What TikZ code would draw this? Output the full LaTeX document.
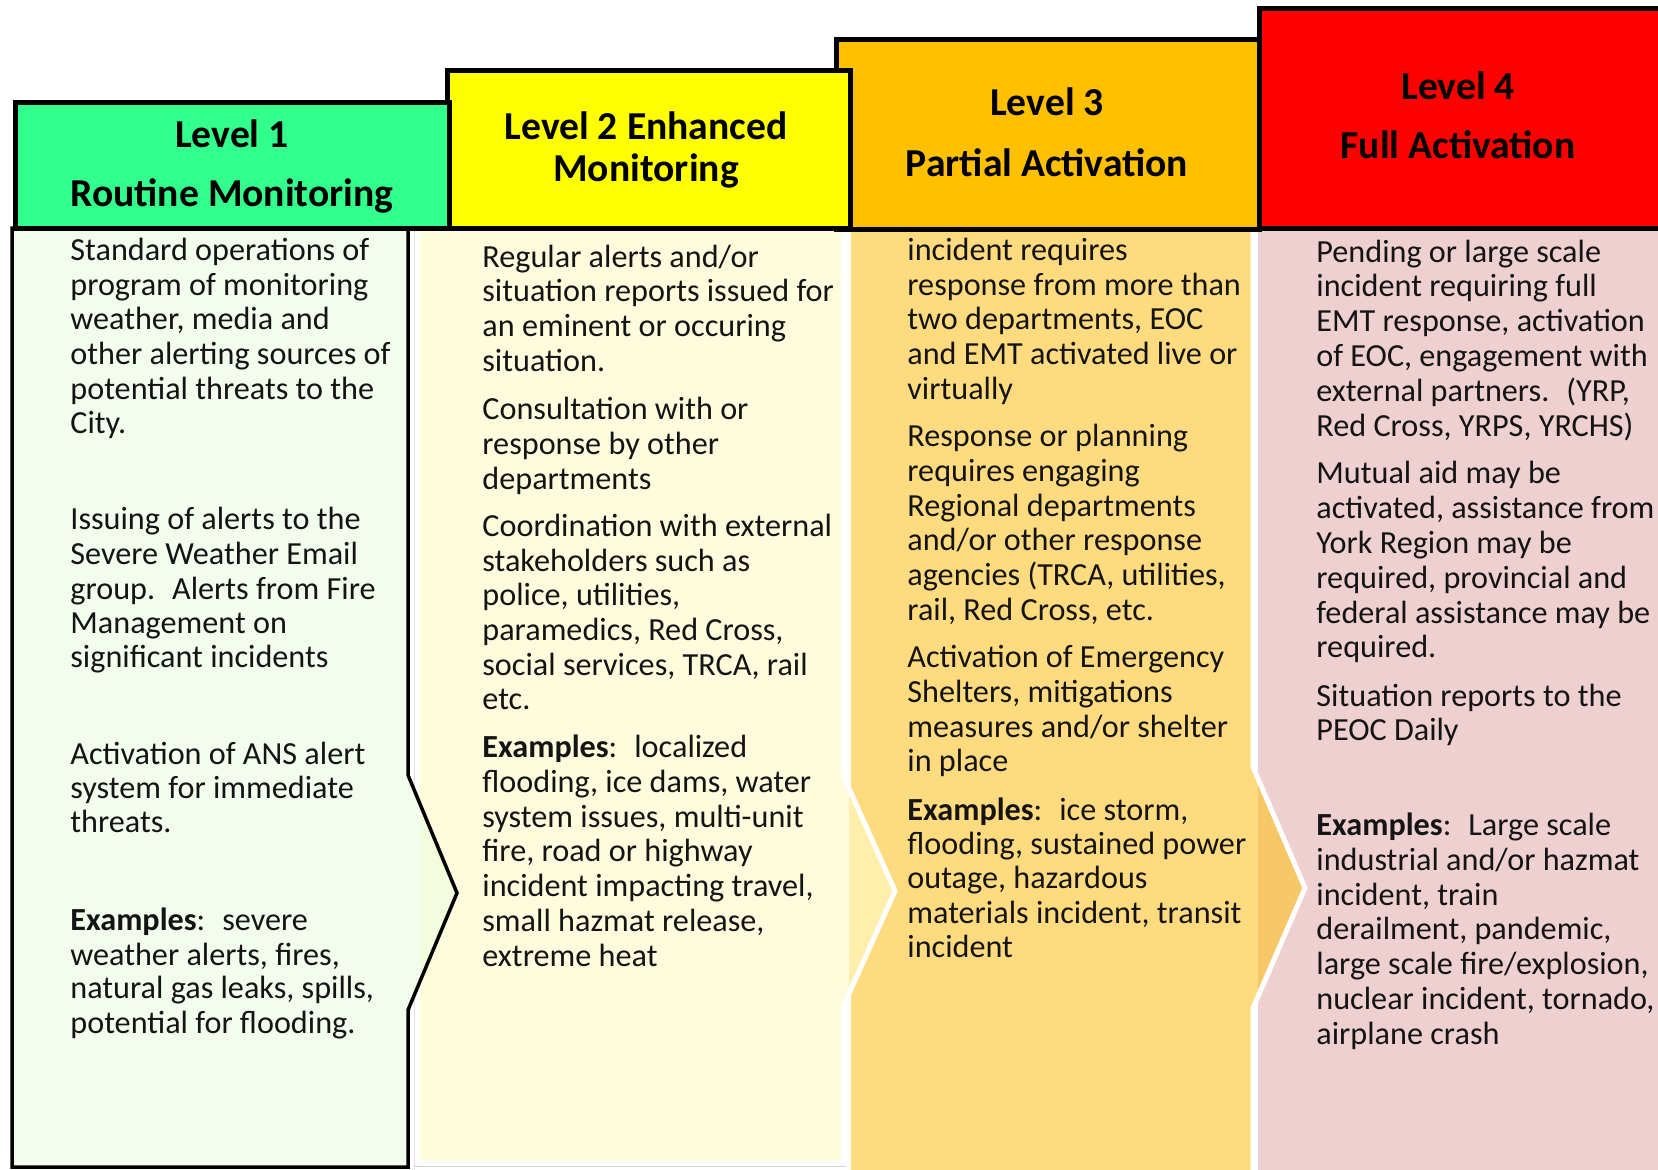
\documentclass[tikz,border=0pt]{standalone}
\usepackage{fontspec}
\setmainfont{Carlito}
\definecolor{hdone}{RGB}{51,255,140}
\definecolor{hdtwo}{RGB}{255,255,0}
\definecolor{hdthree}{RGB}{255,192,0}
\definecolor{hdfour}{RGB}{255,0,0}
\definecolor{bdone}{RGB}{243,253,238}
\definecolor{tipone}{RGB}{244,252,222}
\definecolor{bdtwo}{RGB}{255,252,222}
\definecolor{tiptwo}{RGB}{255,239,170}
\definecolor{bdthree}{RGB}{255,219,128}
\definecolor{tipthree}{RGB}{245,199,102}
\definecolor{bdfour}{RGB}{238,208,209}
\definecolor{txtcol}{RGB}{20,20,20}
\tikzset{
  hdrbox/.style={draw=black, line width=2.5pt},
  htxt/.style={font=\fontsize{19.8}{23}\selectfont\bfseries, anchor=base, inner sep=0pt},
  btxt/.style={font=\fontsize{16.1}{19}\selectfont, anchor=base west, inner sep=0pt, text=txtcol},
  wline/.style={draw=white, line width=2.5pt},
}
\begin{document}
\begin{tikzpicture}[x=0.5pt,y=-0.5pt]
\useasboundingbox (0,0) rectangle (1658,1169);
\clip (0,0) rectangle (1658,1169);
\fill[white] (0,0) rectangle (1658,1169);

% ---- Level 4 body
\fill[bdfour] (1258,229) rectangle (1720,1220);

% ---- Level 3 body
\fill[bdthree] (848,229) -- (1253,229) -- (1253,767) -- (1305,888) -- (1253,1008) -- (1253,1220) -- (848,1220) -- cycle;
\begin{scope}
  \clip (1258,0) rectangle (1720,1220);
  \fill[tipthree] (1253,767) -- (1305,888) -- (1253,1008) -- cycle;
\end{scope}
\draw[wline] (848,229) -- (848,1220);
\draw[wline] (1253,229) -- (1253,767) -- (1305,888) -- (1253,1008) -- (1253,1220);

% ---- Level 2 body
\draw[gray!35, line width=0.4pt] (414,229) -- (414,1166.5) -- (846,1166.5);
\fill[bdtwo] (417,229) -- (843,229) -- (843,775) -- (895,891) -- (843,1007) -- (843,1163) -- (417,1163) -- cycle;
\begin{scope}
  \clip (849,0) rectangle (1000,1220);
  \fill[tiptwo] (843,775) -- (895,891) -- (843,1007) -- cycle;
\end{scope}
\draw[wline] (417,229) -- (843,229) -- (843,775) -- (895,891) -- (843,1007) -- (843,1163) -- (417,1163) -- cycle;

% ---- Level 1 body
\fill[bdone] (12,228) -- (408,228) -- (408,775) -- (457,893) -- (408,1010) -- (408,1167) -- (12,1167) -- cycle;
\begin{scope}
  \clip (421,0) rectangle (470,1220);
  \fill[tipone] (408,775) -- (457,893) -- (408,1010) -- cycle;
\end{scope}
\draw[black, line width=1.75pt] (12,228) -- (408,228) -- (408,775) -- (457,893) -- (408,1010) -- (408,1167) -- (12,1167) -- cycle;

% ---- Headers
\draw[hdrbox, fill=hdfour] (1259,8) rectangle (1720,228);
\draw[hdrbox, fill=hdthree] (836,39) rectangle (1259,229);
\draw[hdrbox, fill=hdtwo] (447,70) rectangle (850,228);
\draw[hdrbox, fill=hdone] (15,102) rectangle (449,228);

\node[htxt] (h1a) at (232,147) {Level 1};
\node[htxt] (h1b) at (232,206) {Routine Monitoring};
\node[htxt] (h2a) at (646,139) {Level 2 Enhanced};
\node[htxt] (h2b) at (646,181) {Monitoring};
\node[htxt] (h3a) at (1047,115) {Level 3};
\node[htxt] (h3b) at (1047,176) {Partial Activation};
\node[htxt] (h4a) at (1458,99) {Level 4};
\node[htxt] (h4b) at (1458,158) {Full Activation};

% ---- Column 1 text
\foreach \y/\t [count=\i] in {
  260/{Standard operations of},
  295/{program of monitoring},
  329/{weather, media and},
  364/{other alerting sources of},
  399/{potential threats to the},
  433/{City.},
  529/{Issuing of alerts to the},
  564/{Severe Weather Email},
  599/{group.~ Alerts from Fire},
  633/{Management on},
  667/{significant incidents},
  764/{Activation of ANS alert},
  798/{system for immediate},
  832/{threats.},
  930/{\textbf{Examples}:~ severe},
  965/{weather alerts, fires,},
  998/{natural gas leaks, spills,},
  1033/{potential for flooding.}}
  \node[btxt] (a\i) at (70,\y) {\t};

% ---- Column 2 text
\foreach \y/\t [count=\i] in {
  267/{Regular alerts and/or},
  301/{situation reports issued for},
  336/{an eminent or occuring},
  371/{situation.},
  419/{Consultation with or},
  454/{response by other},
  489/{departments},
  536/{Coordination with external},
  571/{stakeholders such as},
  605/{police, utilities,},
  640/{paramedics, Red Cross,},
  675/{social services, TRCA, rail},
  709/{etc.},
  757/{\textbf{Examples}:~ localized},
  792/{flooding, ice dams, water},
  827/{system issues, multi-unit},
  861/{fire, road or highway},
  896/{incident impacting travel,},
  931/{small hazmat release,},
  966/{extreme heat}}
  \node[btxt] (b\i) at (482,\y) {\t};

% ---- Column 3 text
\foreach \y/\t [count=\i] in {
  260/{incident requires},
  295/{response from more than},
  329/{two departments, EOC},
  364/{and EMT activated live or},
  399/{virtually},
  446/{Response or planning},
  481/{requires engaging},
  516/{Regional departments},
  550/{and/or other response},
  585/{agencies (TRCA, utilities,},
  620/{rail, Red Cross, etc.},
  667/{Activation of Emergency},
  702/{Shelters, mitigations},
  737/{measures and/or shelter},
  771/{in place},
  820/{\textbf{Examples}:~ ice storm,},
  854/{flooding, sustained power},
  888/{outage, hazardous},
  923/{materials incident, transit},
  957/{incident}}
  \node[btxt] (c\i) at (907,\y) {\t};

% ---- Column 4 text
\foreach \y/\t [count=\i] in {
  262/{Pending or large scale},
  296/{incident requiring full},
  331/{EMT response, activation},
  366/{of EOC, engagement with},
  401/{external partners.~ (YRP,},
  436/{Red Cross, YRPS, YRCHS)},
  483/{Mutual aid may be},
  518/{activated, assistance from},
  553/{York Region may be},
  588/{required, provincial and},
  623/{federal assistance may be},
  657/{required.},
  706/{Situation reports to the},
  740/{PEOC Daily},
  835/{\textbf{Examples}:~ Large scale},
  870/{industrial and/or hazmat},
  905/{incident, train},
  939/{derailment, pandemic,},
  974/{large scale fire/explosion,},
  1009/{nuclear incident, tornado,},
  1044/{airplane crash}}
  \node[btxt] (d\i) at (1316,\y) {\t};
\end{tikzpicture}
\end{document}
